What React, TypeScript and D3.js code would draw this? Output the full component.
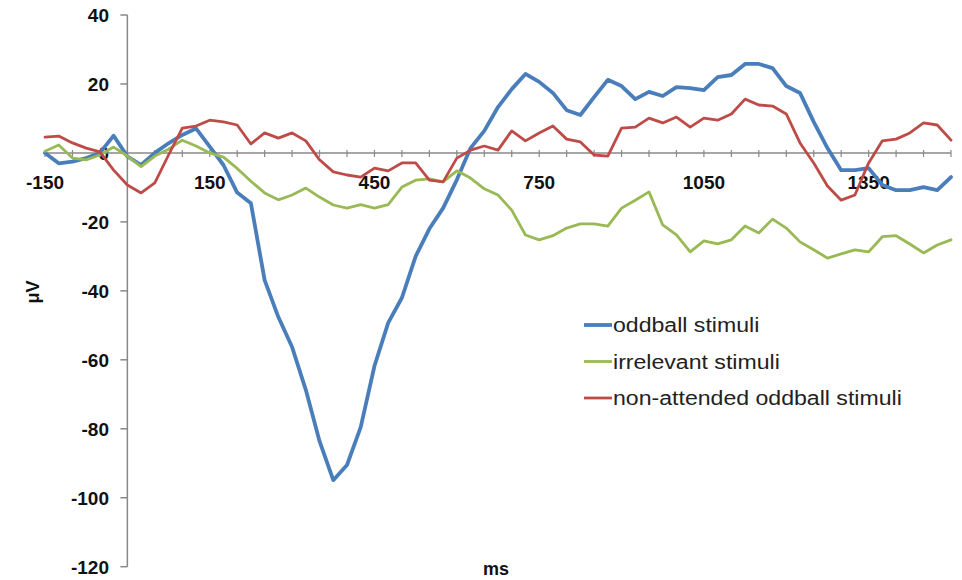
import React from "react";
import * as d3 from "d3";

// sample times, ms (every 25 ms)
const times = d3.range(-150, 1501, 25);

// µV values
const oddball = [
  0, -3, -2.5, -1.5, 0, 5, -1, -3.5, 0, 2.8, 5.2, 7.1, 1.8, -3.5, -11.5, -14.6,
  -36.9, -47.6, -56.3, -68.7, -83.6, -94.9, -90.5, -79.5, -61.8, -49.3, -42, -30,
  -22, -16, -7.8, 1.4, 6.4, 13.3, 18.5, 22.9, 20.6, 17.4, 12.4, 11, 16.2, 21.2,
  19.4, 15.6, 17.7, 16.5, 19.1, 18.8, 18.2, 22, 22.6, 25.8, 25.8, 24.6, 19.4, 17.4,
  9, 1.4, -5, -5, -4.4, -9.3, -10.8, -10.8, -9.9, -10.8, -7,
];
const irrelevant = [
  0.5, 2.3, -1.5, -2, -0.6, 1.7, -0.9, -4, -0.9, 1.1, 3.7, 2, 0, -1.2, -4.5, -8.2,
  -11.6, -13.6, -12.2, -10.2, -12.8, -15.1, -16, -15, -16, -15, -9.9, -7.9, -7.5,
  -8.4, -5.2, -7.3, -10.4, -12.2, -16.6, -23.8, -25.2, -24, -21.8, -20.6, -20.6,
  -21.2, -16, -13.7, -11.3, -20.9, -23.8, -28.7, -25.5, -26.4, -25.2, -21.2, -23.2,
  -19.2, -21.8, -25.8, -28.1, -30.5, -29.3, -28.1, -28.7, -24.3, -24, -26.4, -29,
  -26.7, -25.2,
];
const nonAttended = [
  4.6, 4.9, 2.9, 1.4, 0.3, -5, -9.3, -11.6, -8.7, -0.6, 7.2, 7.8, 9.5, 9, 8.1, 2.6,
  5.8, 4.3, 5.8, 3.5, -2, -5.5, -6.4, -7, -4.4, -5.2, -2.9, -2.9, -7.9, -8.4, -1.5,
  0.8, 2, 0.8, 6.4, 3.5, 5.8, 7.8, 4, 3.2, -0.6, -0.9, 7.2, 7.5, 10.1, 8.7, 10.4,
  7.5, 10.1, 9.5, 11.3, 15.6, 13.9, 13.6, 11.3, 2.9, -2.9, -9.6, -13.7, -12.2, -2.9,
  3.5, 4, 5.8, 8.7, 8.1, 3.7,
];

const seriesNames = ["oddball stimuli", "irrelevant stimuli", "non-attended oddball stimuli"];
const seriesColors = ["#4a7ebb", "#98b954", "#be4b48"];
const yTickValues = [40, 20, 0, -20, -40, -60, -80, -100, -120];
const xLabelValues = [-150, 150, 450, 750, 1050, 1350];
const xTickValues = d3.range(-150, 1501, 50);

const width = 962;
const height = 580;
const font = "'Liberation Sans', Arial, sans-serif";

export default function App() {
  const x = d3.scaleLinear().domain([-150, 1500]).range([45, 951]);
  const y = d3.scaleLinear().domain([-120, 40]).range([566.7, 15]);
  const x0 = x(0);
  const y0 = y(0);

  const data = [oddball, irrelevant, nonAttended];
  const widths = [3.8, 2.8, 2.8];
  const line = d3
    .line<number>()
    .x((_, i) => x(times[i]))
    .y((d) => y(d));

  return (
    <svg width={width} height={height} style={{ position: "absolute", left: 0, top: 0, background: "#fff" }}>
      {/* y axis */}
      <line x1={x0} x2={x0} y1={y(40)} y2={y(-120)} stroke="#898989" strokeWidth={1.5} />
      {yTickValues.map((v) => (
        <g key={v}>
          <line x1={x0 - 7} x2={x0} y1={y(v)} y2={y(v)} stroke="#898989" strokeWidth={1.5} />
          <text x={109} y={y(v)} dy="0.36em" textAnchor="end" fontFamily={font} fontWeight="bold" fontSize={19} fill="#111">
            {v}
          </text>
        </g>
      ))}

      {/* x axis */}
      <line x1={x(-150)} x2={x(1500)} y1={y0} y2={y0} stroke="#898989" strokeWidth={1.5} />
      {xTickValues.map((v) => (
        <line key={v} x1={x(v)} x2={x(v)} y1={y0 - 3} y2={y0 + 4} stroke="#898989" strokeWidth={1.2} />
      ))}
      {xLabelValues.map((v) => (
        <text key={v} x={x(v)} y={189} textAnchor="middle" fontFamily={font} fontWeight="bold" fontSize={19} fill="#111">
          {v}
        </text>
      ))}

      {/* series */}
      {data.map((vals, i) => (
        <path
          key={seriesNames[i]}
          d={line(vals) || ""}
          fill="none"
          stroke={seriesColors[i]}
          strokeWidth={widths[i]}
          strokeLinejoin="round"
          strokeLinecap="round"
        />
      ))}

      {/* axis titles */}
      <text transform="translate(33,292) rotate(-90)" dy="0.35em" textAnchor="middle" fontFamily={font} fontWeight="bold" fontSize={18} fill="#111">
        μV
      </text>
      <text x={496} y={575} textAnchor="middle" fontFamily={font} fontWeight="bold" fontSize={18} fill="#111">
        ms
      </text>

      {/* legend - text in the original is a bit stretched sideways */}
      {seriesNames.map((name, i) => {
        const ly = 325 + i * 36.5;
        return (
          <g key={name}>
            <line x1={584} x2={612} y1={ly} y2={ly} stroke={seriesColors[i]} strokeWidth={i === 0 ? 3.8 : 2.8} />
            <text transform={`translate(613,${ly}) scale(1.1,1)`} dy="0.35em" fontFamily={font} fontSize={21} fill="#222">
              {name}
            </text>
          </g>
        );
      })}
    </svg>
  );
}
